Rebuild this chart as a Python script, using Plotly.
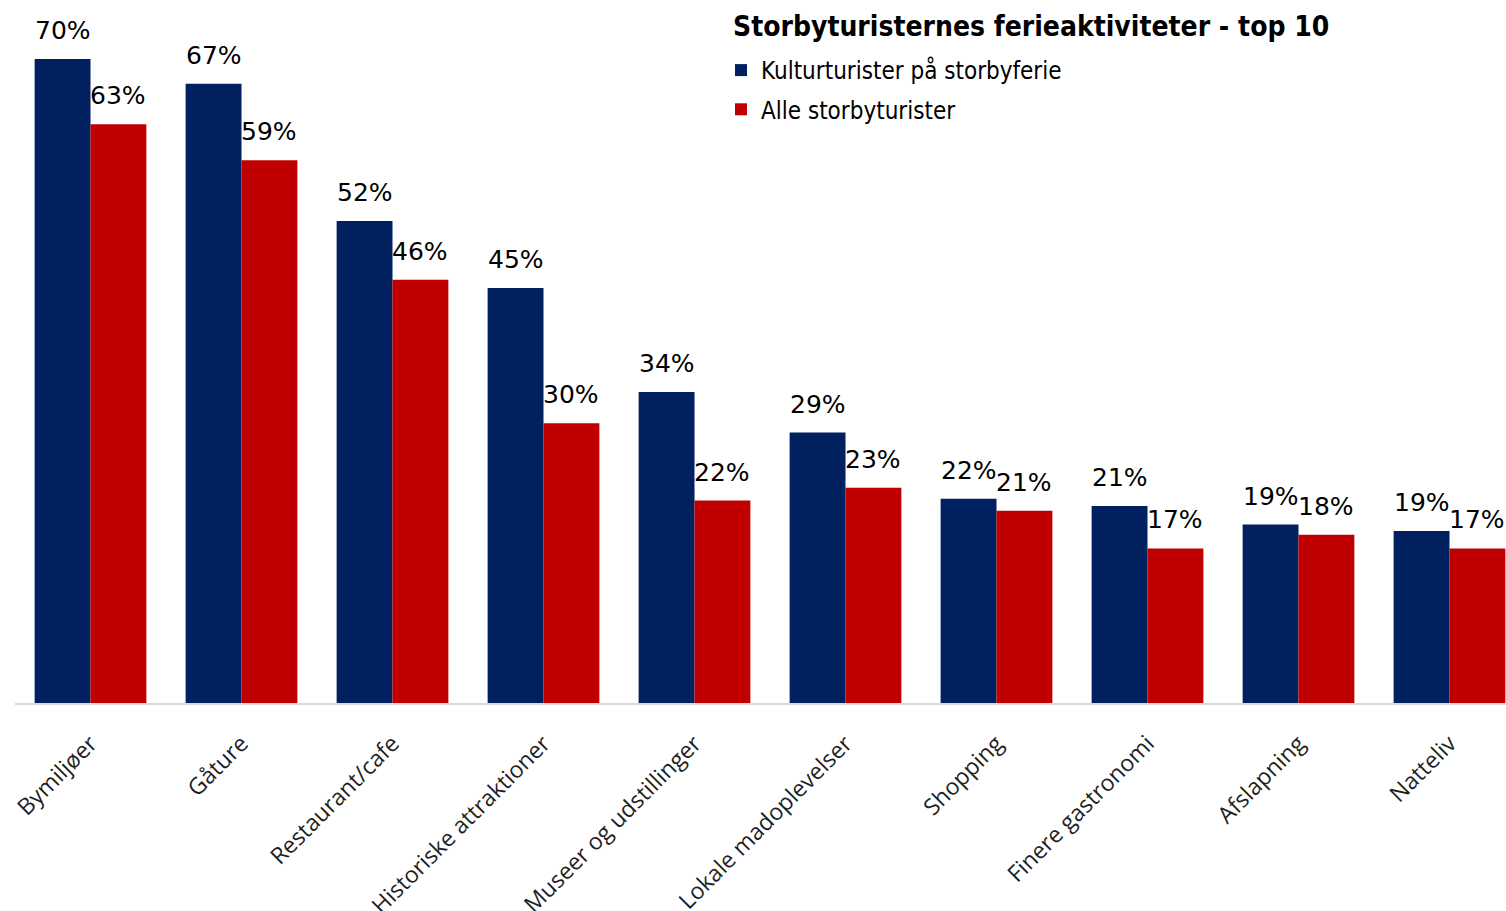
import plotly.graph_objects as go

categories = ["Bymiljøer", "Gåture", "Restaurant/cafe", "Historiske attraktioner",
              "Museer og udstillinger", "Lokale madoplevelser", "Shopping",
              "Finere gastronomi", "Afslapning", "Natteliv"]
kultur = [70.0, 67.3, 52.4, 45.1, 33.8, 29.4, 22.2, 21.4, 19.4, 18.7]
alle = [62.9, 59.0, 46.0, 30.4, 22.0, 23.4, 20.9, 16.8, 18.3, 16.8]
series_names = ["Kulturturister på storbyferie", "Alle storbyturister"]
title_text = "Storbyturisternes ferieaktiviteter - top 10"

W, H = 1506, 911
ML, MR, MT, MB = 15, 0, 10, 208
PW, PH = W - ML - MR, H - MT - MB
CAT_PX = 151.0
BARGAP = 0.26
XMAX = -0.5 + PW / CAT_PX
half_bar = CAT_PX * (1 - BARGAP) / 4

label_font = dict(family="DejaVu Sans", size=25, color="#000000")
narrow = "Liberation Sans Narrow, DejaVu Sans Condensed, Arial Narrow, sans-serif"

fig = go.Figure()
fig.add_trace(go.Bar(x=categories, y=kultur, name=series_names[0],
                     marker=dict(color="#002060", line=dict(width=0)),
                     legendgroup="a"))
fig.add_trace(go.Bar(x=categories, y=alle, name=series_names[1],
                     marker=dict(color="#C00000", line=dict(width=0)),
                     legendgroup="b"))

for vals, shift in ((kultur, -half_bar), (alle, half_bar)):
    for c, v in zip(categories, vals):
        fig.add_annotation(x=c, y=v, xref="x", yref="y", text=f"{v:.0f}%",
                           showarrow=False, xanchor="center", yanchor="bottom",
                           xshift=shift, yshift=12, font=label_font)

fig.update_layout(
    width=W, height=H,
    margin=dict(l=ML, r=MR, t=MT, b=MB, autoexpand=False),
    paper_bgcolor="white", plot_bgcolor="white",
    barmode="group", bargap=BARGAP, bargroupgap=0,
    title=dict(text=f"<b>{title_text}</b>", xref="container", yref="container",
               x=733 / W, xanchor="left", y=1 - 16 / H, yanchor="top",
               font=dict(family=narrow, size=28, color="#000000")),
    legend=dict(xref="paper", yref="paper", x=(721 - ML) / PW, xanchor="left",
                y=1 - (48 - MT) / PH, yanchor="top", bgcolor="rgba(0,0,0,0)",
                tracegroupgap=5,
                font=dict(family=narrow, size=24, color="#000000")),
    xaxis=dict(range=[-0.5, XMAX], showline=True, linecolor="#d9d9d9", linewidth=2,
               showgrid=False, ticks="outside", ticklen=16, tickcolor="rgba(0,0,0,0)",
               tickangle=-45, automargin=False,
               tickfont=dict(family="Open Sans", size=23, color="#1f1f1f")),
    yaxis=dict(range=[0, PH / 9.2], visible=False, showgrid=False, automargin=False),
)

fig.write_html("out.html", config={"displayModeBar": False},
               post_script="document.body.style.margin='0';document.body.style.overflow='hidden';")
